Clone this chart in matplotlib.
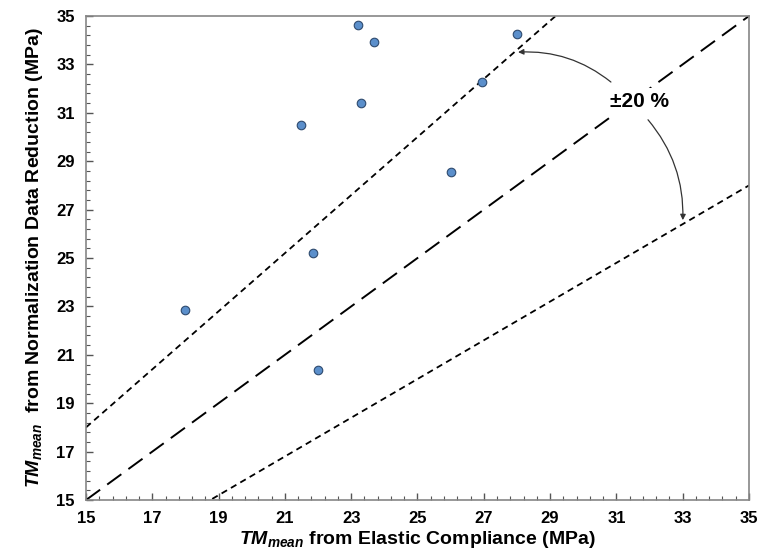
import numpy as np
import matplotlib
matplotlib.use('Agg')
import matplotlib.pyplot as plt
from matplotlib.ticker import FixedLocator

# 데이터
elastic_x = [18.0, 21.5, 21.85, 22.0, 23.2, 23.3, 23.7, 26.0, 26.95, 28.0]
normal_y = [22.85, 30.5, 25.2, 20.37, 34.63, 31.4, 33.93, 28.55, 32.27, 34.24]
axis_range = [15, 35]
ratio_band = [0.8, 1.0, 1.2]

plt.rcParams['font.family'] = ['Liberation Sans', 'DejaVu Sans']
plt.rcParams['font.weight'] = 'bold'
plt.rcParams['mathtext.fontset'] = 'custom'
plt.rcParams['mathtext.it'] = 'Liberation Sans:italic:bold'
plt.rcParams['mathtext.rm'] = 'Liberation Sans:bold'

fig = plt.figure(figsize=(7.59, 5.58), dpi=100)
ax = fig.add_axes([0.1133, 0.1039, 0.8735, 0.8674])

# 기준선 y = x 와 ±20 % 선
xs = np.array(axis_range, dtype=float)
ax.plot(xs, ratio_band[1] * xs, color='black', lw=1.4, dashes=(9, 4.5))
ax.plot(xs, ratio_band[2] * xs, color='black', lw=1.3, dashes=(3.5, 2.5))
ax.plot(xs, ratio_band[0] * xs, color='black', lw=1.3, dashes=(3.5, 2.5))

# 데이터 점
ax.scatter(elastic_x, normal_y, s=38, color='#5B8FCB', edgecolor='#2E4A6E',
           linewidth=0.8, zorder=3)

# ±20 % 표시와 곡선 화살표
ax.text(31.7, 31.45, '±20 %', fontsize=15, fontweight='bold',
        ha='center', va='center', zorder=4,
        bbox=dict(facecolor='white', edgecolor='none', pad=3))
ax.annotate('', xy=(27.95, 33.5), xytext=(30.9, 32.2),
            arrowprops=dict(arrowstyle='-|>', color='#333333', lw=0.9,
                            mutation_scale=8, connectionstyle='arc3,rad=0.2'))
ax.annotate('', xy=(33.0, 26.45), xytext=(31.9, 30.8),
            arrowprops=dict(arrowstyle='-|>', color='#333333', lw=0.9,
                            mutation_scale=8, connectionstyle='arc3,rad=-0.2'))

ax.set_xlim(axis_range)
ax.set_ylim(axis_range)
major = np.arange(15, 35.01, 2)
minor = np.arange(15, 35.01, 0.4)
ax.xaxis.set_major_locator(FixedLocator(major))
ax.yaxis.set_major_locator(FixedLocator(major))
ax.xaxis.set_minor_locator(FixedLocator(minor))
ax.yaxis.set_minor_locator(FixedLocator(minor))
ax.tick_params(which='major', direction='in', length=5, width=1, color='#555555',
               labelsize=12, pad=8)
ax.tick_params(which='minor', direction='in', length=3, width=0.8, color='#555555')

for sp in ax.spines.values():
    sp.set_color('#868686')
    sp.set_linewidth(1.2)

ax.set_xlabel(r'$TM_{mean}$ from Elastic Compliance (MPa)', fontsize=14,
              fontweight='bold', labelpad=2)
ax.set_ylabel(r'$TM_{mean}$  from Normalization Data Reduction (MPa)', fontsize=14,
              fontweight='bold', labelpad=8)

fig.savefig('out.png', dpi=100)
